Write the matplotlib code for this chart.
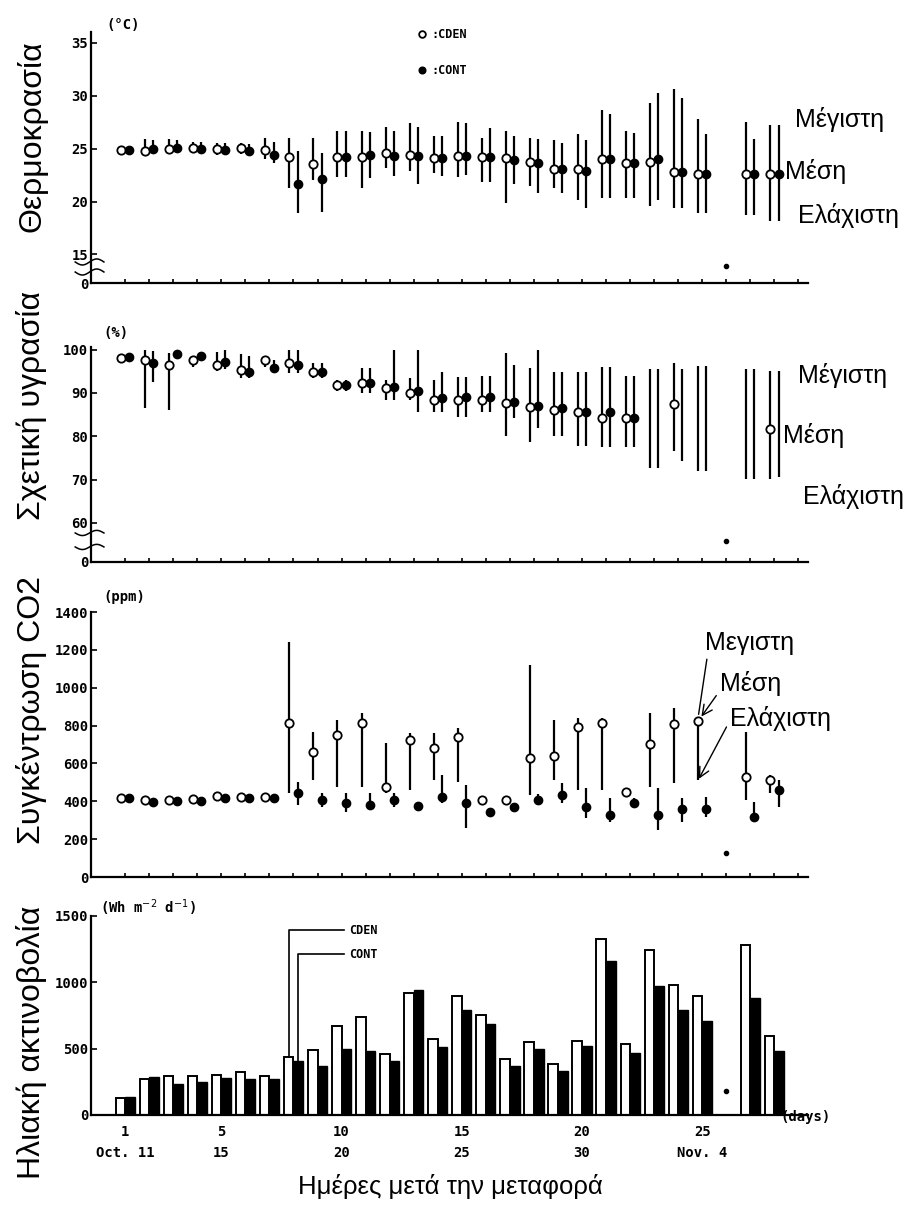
import numpy as np
import matplotlib.pyplot as plt

# ---- data ----
days = [1, 2, 3, 4, 5, 6, 7, 8, 9, 10, 11, 12, 13, 14, 15, 16, 17, 18, 19, 20,
        21, 22, 23, 24, 25, 27, 28]
nan = np.nan

# temperature (deg C)
temp_cden_mean = [24.9, 24.8, 25.0, 25.1, 25.0, 25.1, 24.9, 24.2, 23.5, 24.2, 24.2, 24.6, 24.4, 24.1,
                  24.3, 24.2, 24.1, 23.7, 23.1, 23.1, 24.0, 23.6, 23.7, 22.8, 22.6, 22.6, 22.6]
temp_cden_min = [24.7, 24.5, 24.7, 24.8, 24.4, 24.5, 24.0, 21.3, 22.0, 22.3, 21.3, 23.2, 22.9, 22.7,
                 22.3, 21.8, 19.9, 21.5, 21.3, 20.1, 20.3, 20.3, 19.6, 19.4, 18.9, 18.7, 18.2]
temp_cden_max = [25.1, 25.9, 25.9, 25.6, 25.5, 25.5, 26.0, 26.0, 26.0, 26.7, 26.7, 27.0, 27.4, 26.2,
                 27.5, 26.0, 26.7, 26.0, 25.8, 26.4, 28.6, 26.7, 29.3, 30.6, 27.8, 27.5, 27.2]
temp_cont_mean = [24.9, 25.0, 25.1, 25.0, 24.9, 24.8, 24.4, 21.7, 22.1, 24.2, 24.4, 24.3, 24.3, 24.1,
                  24.3, 24.2, 23.9, 23.6, 23.1, 22.9, 24.0, 23.6, 24.0, 22.8, 22.6, 22.6, 22.6]
temp_cont_min = [24.7, 24.6, 24.7, 24.7, 24.5, 24.3, 23.6, 18.9, 19.0, 22.3, 22.2, 22.4, 21.7, 22.4,
                 22.5, 21.8, 21.7, 20.8, 20.8, 19.4, 20.3, 20.3, 20.1, 19.4, 18.9, 18.7, 18.2]
temp_cont_max = [25.1, 25.8, 25.8, 25.6, 25.5, 25.4, 25.6, 24.8, 24.6, 26.7, 26.6, 26.7, 27.0, 26.2,
                 27.4, 26.9, 26.2, 25.9, 25.5, 25.8, 28.3, 26.5, 30.2, 29.8, 26.4, 25.9, 27.2]

# relative humidity (%)
hum_cden_mean = [98.0, 97.5, 96.4, 97.5, 96.5, 95.2, 97.5, 97.0, 94.8, 91.8, 92.3, 91.1, 90.0, 88.4,
                 88.4, 88.4, 87.7, 86.8, 86.1, 85.5, 84.3, 84.1, nan, 87.5, nan, nan, 81.7]
hum_cden_min = [97.5, 86.5, 86.0, 96.0, 95.0, 93.4, 96.0, 94.5, 93.5, 90.5, 90.0, 88.4, 88.4, 85.7,
                84.5, 85.5, 80.0, 78.6, 80.0, 77.7, 77.5, 77.5, 72.7, 76.6, 72.0, 70.2, 70.2]
hum_cden_max = [98.5, 99.8, 99.3, 98.5, 99.5, 99.0, 98.5, 100.0, 97.0, 93.0, 95.7, 93.0, 93.4, 93.0,
                93.6, 94.0, 99.3, 95.7, 94.8, 94.8, 95.9, 94.0, 95.6, 96.8, 96.3, 95.6, 95.1]
hum_cont_mean = [98.2, 97.0, 99.0, 98.5, 97.2, 94.8, 95.7, 96.4, 94.8, 91.8, 92.3, 91.4, 90.5, 88.9,
                 89.1, 89.1, 88.0, 87.0, 86.6, 85.7, 85.7, 84.1, nan, nan, nan, nan, nan]
hum_cont_min = [97.8, 92.5, 98.0, 97.5, 95.5, 93.4, 95.0, 94.5, 93.5, 90.5, 90.0, 88.4, 85.5, 85.7,
                84.5, 85.5, 84.3, 82.0, 80.0, 77.7, 77.5, 77.5, 72.7, 74.3, 72.0, 70.2, 70.6]
hum_cont_max = [98.8, 99.7, 99.5, 99.5, 99.8, 98.6, 97.5, 99.8, 97.0, 93.0, 95.7, 100.0, 100.0, 94.8,
                93.6, 94.0, 96.4, 100.0, 94.8, 94.8, 95.9, 94.0, 95.6, 95.6, 96.3, 95.6, 95.1]

# CO2 concentration (ppm)
co2_cden_mean = [420, 405, 405, 410, 430, 425, 425, 813, 660, 750, 813, 475, 724, 681,
                 740, 407, 407, 629, 640, 792, 813, 449, 703, 808, 824, 528, 512]
co2_cden_min = [405, 395, 395, 400, 410, 410, 410, 444, 512, 475, 475, 444, 460, 512,
                502, 390, 390, 433, 512, 460, 460, 430, 475, 497, 512, 407, 444]
co2_cden_max = [435, 420, 415, 420, 445, 440, 440, 1240, 765, 830, 866, 708, 760, 760,
                787, 425, 425, 1120, 830, 840, 840, 470, 866, 893, 845, 766, 539]
co2_cont_mean = [415, 395, 400, 400, 415, 420, 420, 445, 407, 390, 380, 407, 375, 423,
                 390, 343, 370, 407, 433, 370, 328, 390, 328, 359, 359, 317, 460]
co2_cont_min = [400, 385, 390, 390, 400, 405, 405, 380, 370, 343, 354, 370, 365, 390,
                260, 325, 350, 380, 390, 312, 290, 370, 248, 290, 317, 317, 370]
co2_cont_max = [430, 410, 410, 415, 435, 440, 440, 500, 444, 444, 444, 444, 390, 538,
                486, 365, 390, 440, 497, 470, 417, 420, 470, 417, 423, 396, 512]

# solar radiation (Wh m-2 d-1)
rad_cden = [130, 273, 295, 295, 300, 325, 295, 440, 492, 667, 735, 462, 917, 576,
            894, 750, 424, 553, 386, 561, 1326, 538, 1242, 977, 894, 1280, 598]
rad_cont = [135, 288, 230, 250, 280, 273, 273, 410, 371, 500, 485, 409, 940, 515,
            788, 689, 371, 500, 333, 523, 1159, 470, 970, 788, 705, 879, 485]

# day 26: only a single dot near the axis in every panel
missing_day = 26
missing_dot = [13.9, 55.8, 127, 180]

xtick_days = [1, 5, 10, 15, 20, 25]
xtick_labels = ['1\nOct. 11', '5\n15', '10\n20', '15\n25', '20\n30', '25\nNov. 4']

# ---- style ----
GREEK = ['Liberation Sans', 'DejaVu Sans']
MONO = dict(family='DejaVu Sans Mono', weight='bold')
x = np.array(days, dtype=float)
off = 0.17


def ranges(ax, c_mean, c_lo, c_hi, t_mean, t_lo, t_hi):
    ax.vlines(x - off, c_lo, c_hi, color='black', lw=1.6)
    ax.vlines(x + off, t_lo, t_hi, color='black', lw=1.6)
    h1, = ax.plot(x - off, np.array(c_mean, float), 'o', ms=6, mfc='white', mec='black',
                  mew=1.3, ls='none', label=':CDEN', zorder=3)
    h2, = ax.plot(x + off, np.array(t_mean, float), 'o', ms=6, mfc='black', mec='black',
                  ls='none', label=':CONT', zorder=3)
    return h1, h2


def style(ax, ylim, yticks, ylabels, bottom=False):
    for s in ['top', 'right']:
        ax.spines[s].set_visible(False)
    ax.spines['left'].set_linewidth(1.6)
    ax.spines['bottom'].set_linewidth(1.6)
    ax.set_xlim(-0.42, 29.4)
    ax.set_ylim(*ylim)
    ax.set_yticks(yticks)
    ax.set_yticklabels(ylabels, fontsize=10, **MONO)
    ax.tick_params(axis='y', direction='in', length=4, width=1.2, pad=2)
    if not bottom:
        ax.set_xticks(np.arange(1, 30))
        ax.tick_params(axis='x', direction='in', length=3, width=1.2, labelbottom=False)


def axis_break(ax, yc):
    t = np.linspace(-1, 1, 30)
    for y0 in yc:
        ax.plot(-0.022 + 0.04 * (t + 1) / 2, y0 + 0.012 * np.sin(np.pi * t), color='black',
                lw=1.1, transform=ax.transAxes, clip_on=False)


fig = plt.figure(figsize=(9.1, 12.06), dpi=100)
ax1 = fig.add_axes([0.1, 0.7653, 0.788, 0.2081])
ax2 = fig.add_axes([0.1, 0.5340, 0.788, 0.1783])
ax3 = fig.add_axes([0.1, 0.2728, 0.788, 0.2197])
ax4 = fig.add_axes([0.1, 0.0755, 0.788, 0.1650])

# temperature (axis broken between 0 and 15)
h1, h2 = ranges(ax1, temp_cden_mean, temp_cden_min, temp_cden_max,
                temp_cont_mean, temp_cont_min, temp_cont_max)
style(ax1, (12.3, 36), [12.3, 15, 20, 25, 30, 35], ['0', '15', '20', '25', '30', '35'])
axis_break(ax1, [0.084, 0.044])
ax1.plot(missing_day, missing_dot[0], 'o', ms=3, color='black')
ax1.text(0.022, 1.03, '(°C)', transform=ax1.transAxes, ha='left', va='center', fontsize=10, **MONO)
ax1.legend(handles=[h1, h2], loc='upper left', bbox_to_anchor=(0.457, 1.015), frameon=False,
           handlelength=0.6, handletextpad=0.5, labelspacing=1.9, borderpad=0, borderaxespad=0,
           numpoints=1, markerscale=0.8, prop=dict(family='DejaVu Sans Mono', weight='bold', size=8.5))

# humidity (axis broken between 0 and 60)
ranges(ax2, hum_cden_mean, hum_cden_min, hum_cden_max, hum_cont_mean, hum_cont_min, hum_cont_max)
style(ax2, (51.0, 100.6), [51.0, 60, 70, 80, 90, 100], ['0', '60', '70', '80', '90', '100'])
axis_break(ax2, [0.135, 0.07])
ax2.plot(missing_day, missing_dot[1], 'o', ms=3, color='black')
ax2.text(0.017, 1.065, '(%)', transform=ax2.transAxes, ha='left', va='center', fontsize=10, **MONO)

# CO2
ranges(ax3, co2_cden_mean, co2_cden_min, co2_cden_max, co2_cont_mean, co2_cont_min, co2_cont_max)
style(ax3, (0, 1400), [0, 200, 400, 600, 800, 1000, 1200, 1400],
      ['0', '200', '400', '600', '800', '1000', '1200', '1400'])
ax3.plot(missing_day, missing_dot[2], 'o', ms=3, color='black')
ax3.text(0.017, 1.057, '(ppm)', transform=ax3.transAxes, ha='left', va='center', fontsize=10, **MONO)
i25 = days.index(25)
xa = 25 - off
ax3.annotate('Μεγιστη', xy=(xa, co2_cden_max[i25]), xytext=(0.856, 0.883), textcoords='axes fraction',
             ha='left', va='center', fontsize=18, family=GREEK,
             arrowprops=dict(arrowstyle='-', lw=1.0, color='black', relpos=(0.03, 0.0), shrinkA=1, shrinkB=2))
ax3.annotate('Μέση', xy=(xa, co2_cden_mean[i25]), xytext=(0.877, 0.732), textcoords='axes fraction',
             ha='left', va='center', fontsize=18, family=GREEK,
             arrowprops=dict(arrowstyle='->', lw=1.0, color='black', relpos=(0.0, 0.2), shrinkA=1, shrinkB=4))
ax3.annotate('Ελάχιστη', xy=(xa, co2_cden_min[i25]), xytext=(0.891, 0.60), textcoords='axes fraction',
             ha='left', va='center', fontsize=18, family=GREEK,
             arrowprops=dict(arrowstyle='->', lw=1.0, color='black', relpos=(0.0, 0.4), shrinkA=1, shrinkB=1))

# solar radiation
ax4.bar(x - 0.2, rad_cden, width=0.4, color='white', edgecolor='black', lw=1.4)
ax4.bar(x + 0.2, rad_cont, width=0.4, color='black', edgecolor='black', lw=1.0)
style(ax4, (0, 1500), [0, 500, 1000, 1500], ['0', '500', '1000', '1500'], bottom=True)
ax4.set_xticks(xtick_days)
ax4.set_xticklabels(xtick_labels, fontsize=10, **MONO)
for lab in ax4.get_xticklabels():
    lab.set_linespacing(1.7)
ax4.tick_params(axis='x', length=0, pad=7)
ax4.plot(missing_day, missing_dot[3], 'o', ms=3, color='black')
ax4.text(0.013, 1.04, '(Wh m$^{-2}$ d$^{-1}$)', transform=ax4.transAxes, ha='left', va='center',
         fontsize=10, **MONO)
ax4.text(0.962, -0.01, '(days)', transform=ax4.transAxes, ha='left', va='center', fontsize=10, **MONO)
i8 = days.index(8)
ax4.plot([8 - 0.2, 8 - 0.2, 10.1], [rad_cden[i8], 1394, 1394], color='black', lw=1.2)
ax4.plot([8 + 0.2, 8 + 0.2, 10.1], [rad_cont[i8], 1212, 1212], color='black', lw=1.2)
ax4.text(10.3, 1394, 'CDEN', ha='left', va='center', fontsize=8.5, **MONO)
ax4.text(10.3, 1212, 'CONT', ha='left', va='center', fontsize=8.5, **MONO)

# greek labels
fig.text(0.035, 0.887, 'Θερμοκρασία', rotation=90, ha='center', va='center', fontsize=23, family=GREEK)
fig.text(0.035, 0.664, 'Σχετική υγρασία', rotation=90, ha='center', va='center', fontsize=23, family=GREEK)
fig.text(0.035, 0.411, 'Συγκέντρωση CO2', rotation=90, ha='center', va='center', fontsize=23, family=GREEK)
fig.text(0.035, 0.136, 'Ηλιακή ακτινοβολία', rotation=90, ha='center', va='center', fontsize=23, family=GREEK)
fig.text(0.4945, 0.0158, 'Ημέρες μετά την μεταφορά', ha='center', va='center', fontsize=18.5, family=GREEK)

for xf, yf, s in [(0.874, 0.9005, 'Μέγιστη'), (0.8626, 0.8574, 'Μέση'), (0.877, 0.8217, 'Ελάχιστη'),
                  (0.877, 0.689, 'Μέγιστη'), (0.860, 0.6393, 'Μέση'), (0.8824, 0.5879, 'Ελάχιστη')]:
    fig.text(xf, yf, s, ha='left', va='center', fontsize=18, family=GREEK)

fig.savefig('out.png', dpi=100)
